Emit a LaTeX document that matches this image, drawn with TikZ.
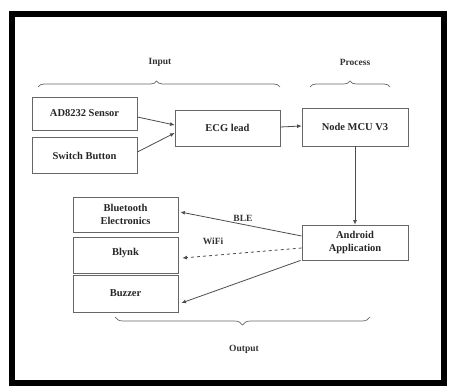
\documentclass[tikz,border=0pt]{standalone}
\usepackage{fontspec}
\setmainfont{Liberation Serif}
\usetikzlibrary{arrows.meta,decorations.pathreplacing}
\begin{document}
\begin{tikzpicture}[x=1pt,y=-1pt,
  box/.style={draw=black!60,line width=0.8pt,rectangle,inner sep=0pt,align=center,
    font=\fontsize{10.5}{12.5}\selectfont\bfseries,text=black!85},
  conn/.style={draw=black!70,line width=0.8pt,-{Latex[length=4.5pt,width=4pt]}},
  lbl/.style={font=\fontsize{9.5}{11}\selectfont\bfseries,text=black!80,inner sep=0pt},
  brc/.style={draw=black!60,line width=0.7pt,decorate}]
\useasboundingbox (0,0) rectangle (449,387);
\draw[line width=6pt,black] (12,14) rectangle (444,383);
% input side
\node[box,minimum width=105pt,minimum height=33pt] (sensor) at (84.5,113.5) {AD8232 Sensor};
\node[box,minimum width=105pt,minimum height=36pt] (switch) at (84.5,155.5) {Switch Button};
\node[box,minimum width=105pt,minimum height=36pt] (ecg) at (227.5,128) {ECG lead};
\node[box,minimum width=106pt,minimum height=38pt] (mcu) at (355,127) {Node MCU V3};
\node[box,minimum width=106pt,minimum height=35pt] (android) at (355,242.5) {Android\\Application};
% outputs
\node[box,minimum width=105pt,minimum height=35pt] (bt) at (125.5,214.5) {Bluetooth\\Electronics};
\node[box,minimum width=105pt,minimum height=36pt] (blynk) at (125.5,255) {\raisebox{6pt}{Blynk}};
\node[box,minimum width=105pt,minimum height=37pt] (buzzer) at (125.5,293.5) {Buzzer};
% connectors
\draw[conn] ([yshift=-3.5pt]sensor.east) -- ([yshift=3pt]ecg.west);
\draw[conn] ([yshift=3.5pt]switch.east) -- ([yshift=-5pt]ecg.west);
\draw[conn] ([yshift=1pt]ecg.east) -- ([yshift=1pt]mcu.west);
\draw[conn] (mcu.south) -- (android.north);
\draw[conn] ([yshift=6.5pt]android.west) -- ([xshift=2pt,yshift=2.5pt]bt.east);
\node[lbl] (ble) at (243,218) {BLE};
\draw[conn,dashed] ([yshift=-5.5pt]android.west) -- ([xshift=4pt,yshift=-3pt]blynk.east);
\node[lbl] (wifi) at (213,241) {WiFi};
\draw[conn] ([xshift=-1pt]android.south west) -- ([xshift=3pt,yshift=-9.5pt]buzzer.east);
% braces
\coordinate (inL) at (38,87);
\coordinate (inR) at (280,87);
\draw[brc,decoration={brace,amplitude=6pt,aspect=0.49}] (inL) -- (inR);
\node[lbl] (input) at (160,62) {Input};
\coordinate (prL) at (310,87);
\coordinate (prR) at (390,87);
\draw[brc,decoration={brace,amplitude=6pt}] (prL) -- (prR);
\node[lbl] (process) at (355,62) {Process};
\coordinate (ouR) at (370,317);
\coordinate (ouL) at (115,317);
\draw[brc,decoration={brace,amplitude=8pt,aspect=0.5}] (ouR) -- (ouL);
\node[lbl] (output) at (244,349) {Output};
\end{tikzpicture}
\end{document}
